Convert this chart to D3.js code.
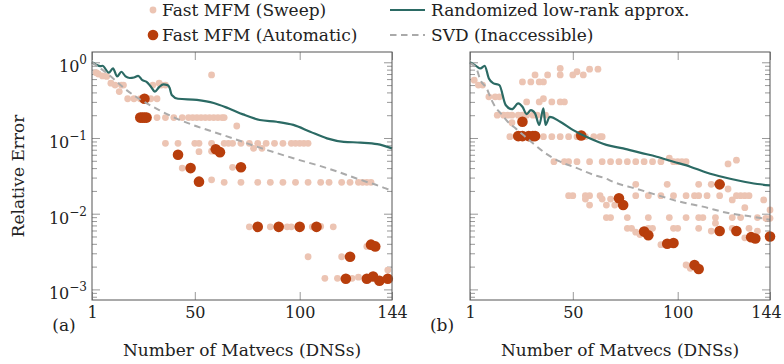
<!DOCTYPE html>
<html>
<head>
<meta charset="utf-8">
<script src="https://cdn.jsdelivr.net/npm/d3@7"></script>
<style>
  body { margin: 0; background: #fff; }
  text { font-family: "DejaVu Serif", serif; fill: #222; }
</style>
</head>
<body>
<div id="chart"></div>
<script>
// data: [matvecs, relative error]
var xTicks = [1, 50, 100, 144];
var yTickExps = [0, -1, -2, -3];

var sweepA = [[3,0.73],[4,0.70],[6,0.66],[8,0.65],[10,0.53],[12,0.50],[14,0.41],[15,0.50],[16,0.50],
  [18,0.33],[21,0.33],[24,0.33],[29,0.33],[32,0.33],[30,0.50],[33,0.53],[34,0.50],[36,0.50],[58,0.68],
  [32,0.186],[36,0.186],[40,0.186],[44,0.186],[47,0.186],[49,0.186],[51,0.186],[53,0.186],[55,0.186],
  [57,0.186],[59,0.186],[61,0.186],[63,0.186],[64,0.186],[70,0.144],
  [36,0.085],[42,0.085],[50,0.085],[52,0.085],[58,0.085],[64,0.085],[66,0.085],[68,0.085],[72,0.085],
  [76,0.085],[80,0.085],[84,0.085],[88,0.085],[92,0.085],[96,0.085],[98,0.085],[100,0.085],[102,0.085],[104,0.085],
  [52,0.066],[58,0.067],[78,0.073],[82,0.073],[44,0.040],[68,0.041],
  [58,0.028],[64,0.026],[72,0.026],[80,0.026],[86,0.026],[92,0.026],[98,0.026],[104,0.026],[110,0.026],
  [114,0.026],[120,0.026],[124,0.026],[128,0.026],[130,0.026],[132,0.026],[134,0.026],
  [76,0.0067],[86,0.0067],[94,0.0067],[96,0.0067],[106,0.0067],[110,0.0068],[116,0.0067],
  [104,0.0027],[120,0.0027],[132,0.0037],
  [112,0.0014],[118,0.0014],[125,0.0014],[128,0.00145],[142,0.0018]];

var autoA = [[26,0.33],[24,0.186],[25,0.186],[26,0.186],[27,0.186],[42,0.060],[48,0.040],[52,0.0265],
  [60,0.071],[62,0.065],[72,0.041],[80,0.0067],[90,0.0067],[100,0.0067],[108,0.0067],[124,0.0027],
  [134,0.0039],[136,0.0037],[122,0.00138],[132,0.00138],[135,0.00148],[138,0.0013],[142,0.00138]];

var randA = [[1,1.0],[3,0.93],[5,0.89],[6,0.90],[9,0.73],[11,0.83],[13,0.65],[15,0.75],[17,0.65],[19,0.62],
  [21,0.63],[23,0.66],[25,0.58],[27,0.55],[29,0.48],[31,0.41],[33,0.47],[35,0.51],[37,0.50],[38,0.46],
  [39,0.37],[42,0.33],[51,0.318],[59,0.29],[66,0.247],[73,0.205],[81,0.173],[89,0.164],[97,0.149],
  [105,0.121],[113,0.099],[121,0.089],[129,0.087],[137,0.083],[144,0.073]];

var svdA = [[1,1.0],[10,0.65],[17,0.44],[25,0.31],[33,0.234],[41,0.182],[49,0.149],[65,0.106],[81,0.0745],
  [97,0.054],[113,0.040],[129,0.028],[141,0.0216],[144,0.020]];

var sweepB = [[3,0.58],[5,0.50],[7,0.50],[10,0.35],[13,0.35],[15,0.35],
  [14,0.20],[17,0.20],[19,0.20],[21,0.20],[24,0.20],[26,0.20],[28,0.20],[31,0.20],[33,0.20],[37,0.20],[21,0.159],
  [20,0.104],[23,0.104],[27,0.104],[33,0.104],[36,0.104],[40,0.104],[44,0.104],[48,0.104],[52,0.104],
  [56,0.104],[60,0.104],[63,0.104],[64,0.104],
  [26,0.55],[30,0.55],[32,0.68],[34,0.55],[36,0.55],[38,0.68],[44,0.83],[44,0.68],[50,0.68],[52,0.75],
  [55,0.68],[58,0.81],[62,0.81],
  [28,0.30],[34,0.30],[36,0.33],[40,0.30],[44,0.30],[46,0.30],
  [41,0.0486],[46,0.0486],[48,0.0486],[52,0.0486],[58,0.0486],[64,0.0486],[68,0.0486],[72,0.0486],
  [76,0.0486],[80,0.0486],[84,0.0486],[88,0.0486],[92,0.0486],[96,0.054],[98,0.0486],[100,0.0486],
  [102,0.0486],[104,0.0486],[124,0.0454],[128,0.051],
  [48,0.0173],[50,0.0173],[56,0.0173],[58,0.0173],[56,0.0156],[58,0.013],[63,0.0173],[64,0.0156],
  [66,0.013],[68,0.0156],[70,0.013],[66,0.0089],[68,0.0089],
  [80,0.0244],[95,0.0244],[110,0.0244],[116,0.0244],[124,0.0212],
  [80,0.0173],[86,0.0173],[92,0.0173],[98,0.0173],[104,0.0173],[108,0.0173],[110,0.0173],[114,0.0173],
  [120,0.0173],[126,0.0152],[128,0.0173],[130,0.0173],[132,0.0173],[134,0.0173],[132,0.012],
  [141,0.0152],[144,0.0112],[142,0.0087],[144,0.0087],
  [76,0.0089],[86,0.0089],[96,0.0089],[104,0.0089],[110,0.0089],[112,0.0089],[118,0.0089],[126,0.0089],
  [130,0.0089],[138,0.0089],[118,0.0075],
  [76,0.0064],[78,0.0064],[80,0.0057],[86,0.0064],[88,0.0064],[98,0.0064],[100,0.0064],[110,0.0064],
  [116,0.0059],[126,0.0064],[134,0.0064],[138,0.0059],
  [82,0.0053],[132,0.0048],[92,0.0039],[104,0.0021],[106,0.0019]];

var autoB = [[26,0.164],[24,0.106],[26,0.106],[29,0.106],[31,0.106],[32,0.106],[54,0.108],[72,0.016],
  [74,0.013],[84,0.0058],[86,0.0052],[95,0.0040],[98,0.0041],[108,0.0021],[110,0.00186],[120,0.0244],
  [120,0.0059],[128,0.0059],[135,0.0049],[137,0.0047],[144,0.005]];

var randB = [[1,1.0],[4,0.89],[6,0.83],[8,0.90],[10,0.61],[12,0.53],[15,0.50],[18,0.273],[21,0.24],
  [24,0.287],[26,0.259],[28,0.207],[30,0.234],[32,0.212],[34,0.149],[36,0.247],[37,0.149],[39,0.19],
  [44,0.164],[50,0.128],[58,0.099],[66,0.081],[74,0.073],[82,0.064],[90,0.0566],[98,0.0486],
  [106,0.0418],[114,0.0348],[122,0.0303],[130,0.027],[138,0.0247],[144,0.0237]];

var svdB = [[1,0.98],[4,0.83],[6,0.58],[9,0.45],[11,0.33],[13,0.259],[16,0.207],[19,0.164],[23,0.132],
  [27,0.106],[31,0.085],[37,0.0628],[44,0.0486],[52,0.040],[60,0.0325],[66,0.029],[69,0.0265],
  [80,0.0215],[90,0.0177],[101,0.0144],[112,0.0124],[124,0.0102],[136,0.0091],[144,0.0083]];

var panels = [
  {sweep: sweepA, auto: autoA, rand: randA, svd: svdA, left: 92, right: 392, tag: "(a)", yLabels: true},
  {sweep: sweepB, auto: autoB, rand: randB, svd: svdB, left: 470, right: 770, tag: "(b)", yLabels: false}
];

var svgWidth = 784, svgHeight = 364;
var plotTop = 52, plotBottom = 300;
var sweepColor = "#ecc4b3", autoColor = "#b83e0c", randColor = "#2b6a64", svdColor = "#aaaaaa";

var svg = d3.select("#chart").append("svg")
  .attr("width", svgWidth)
  .attr("height", svgHeight);

var yScale = d3.scaleLog()
  .domain([Math.pow(10, -3.14), Math.pow(10, 0.136)])
  .range([plotBottom, plotTop]);

var majors = yTickExps.map(e => Math.pow(10, e));
var minors = [];
for (var e = -4; e <= 0; e++) {
  for (var k = 2; k <= 9; k++) {
    var v = k * Math.pow(10, e);
    if (v >= yScale.domain()[0] && v <= yScale.domain()[1]) minors.push(v);
  }
}

panels.forEach(function(p) {
  var x = d3.scaleLinear().domain([1, 144]).range([p.left, p.right]);
  var g = svg.append("g");

  // ticks, all pointing inward
  function tickStyle(sel) {
    sel.select(".domain").remove();
    sel.selectAll(".tick line").attr("stroke", "#999");
  }
  g.append("g").attr("transform", `translate(0, ${plotBottom})`)
    .call(d3.axisBottom(x).tickValues(xTicks).tickSizeInner(-8).tickSizeOuter(0).tickPadding(7).tickFormat(d3.format("d")))
    .call(tickStyle)
    .selectAll("text").attr("font-size", 16).attr("font-family", "DejaVu Serif").attr("fill", "#222")
    // keep the last label inside the page
    .attr("dx", d => (x(d) + 16 > svgWidth - 1) ? (svgWidth - 2 - 16 - x(d)) : 0);
  g.append("g").attr("transform", `translate(0, ${plotTop})`)
    .call(d3.axisTop(x).tickValues(xTicks).tickSizeInner(-8).tickSizeOuter(0).tickFormat(""))
    .call(tickStyle);
  g.append("g").attr("transform", `translate(${p.left}, 0)`)
    .call(d3.axisLeft(yScale).tickValues(majors).tickSizeInner(-8).tickSizeOuter(0).tickFormat(""))
    .call(tickStyle);
  g.append("g").attr("transform", `translate(${p.left}, 0)`)
    .call(d3.axisLeft(yScale).tickValues(minors).tickSizeInner(-5).tickSizeOuter(0).tickFormat(""))
    .call(tickStyle);
  g.append("g").attr("transform", `translate(${p.right}, 0)`)
    .call(d3.axisRight(yScale).tickValues(majors).tickSizeInner(-8).tickSizeOuter(0).tickFormat(""))
    .call(tickStyle);
  g.append("g").attr("transform", `translate(${p.right}, 0)`)
    .call(d3.axisRight(yScale).tickValues(minors).tickSizeInner(-5).tickSizeOuter(0).tickFormat(""))
    .call(tickStyle);

  if (p.yLabels) {
    yTickExps.forEach(function(ex) {
      var t = g.append("text")
        .attr("x", p.left - 5)
        .attr("y", yScale(Math.pow(10, ex)) + 10)
        .attr("text-anchor", "end")
        .attr("font-size", 16);
      t.append("tspan").text("10");
      t.append("tspan").attr("font-size", 12).attr("dy", -8).text(ex === 0 ? "0" : "\u2212" + (-ex));
    });
  }

  // sweep points
  g.append("g").selectAll("circle")
    .data(p.sweep)
    .enter()
    .append("circle")
    .attr("cx", d => x(d[0]))
    .attr("cy", d => yScale(d[1]))
    .attr("r", 3.4)
    .attr("fill", sweepColor);

  // automatic points
  g.append("g").selectAll("circle")
    .data(p.auto)
    .enter()
    .append("circle")
    .attr("cx", d => x(d[0]))
    .attr("cy", d => yScale(d[1]))
    .attr("r", 5.3)
    .attr("fill", autoColor);

  var line = d3.line()
    .x(d => x(d[0]))
    .y(d => yScale(d[1]))
    .curve(d3.curveMonotoneX);

  g.append("path").datum(p.rand)
    .attr("d", line)
    .attr("fill", "none")
    .attr("stroke", randColor)
    .attr("stroke-width", 2.2);

  g.append("path").datum(p.svd)
    .attr("d", line)
    .attr("fill", "none")
    .attr("stroke", svdColor)
    .attr("stroke-width", 2)
    .attr("stroke-dasharray", "6.5,4.5");

  // frame
  g.append("rect")
    .attr("x", p.left).attr("y", plotTop)
    .attr("width", p.right - p.left).attr("height", plotBottom - plotTop)
    .attr("fill", "none").attr("stroke", "#555").attr("stroke-width", 1);

  g.append("text")
    .attr("x", p.left - 28).attr("y", 331)
    .attr("text-anchor", "middle").attr("font-size", 17)
    .text(p.tag);

  g.append("text")
    .attr("x", (p.left + p.right) / 2).attr("y", 356)
    .attr("text-anchor", "middle").attr("font-size", 17)
    .text("Number of Matvecs (DNSs)");
});

svg.append("text")
  .attr("transform", "translate(24, 176) rotate(-90)")
  .attr("text-anchor", "middle").attr("font-size", 17)
  .text("Relative Error");

// legend
var legend = svg.append("g");
legend.append("circle").attr("cx", 153).attr("cy", 10).attr("r", 3.4).attr("fill", sweepColor);
legend.append("text").attr("x", 162).attr("y", 16).attr("font-size", 17).text("Fast MFM (Sweep)");
legend.append("circle").attr("cx", 153).attr("cy", 35).attr("r", 5.3).attr("fill", autoColor);
legend.append("text").attr("x", 162).attr("y", 41).attr("font-size", 17).text("Fast MFM (Automatic)");
legend.append("line").attr("x1", 390).attr("x2", 425).attr("y1", 10).attr("y2", 10)
  .attr("stroke", randColor).attr("stroke-width", 2.2);
legend.append("text").attr("x", 431).attr("y", 16).attr("font-size", 17).text("Randomized low-rank approx.");
legend.append("line").attr("x1", 390).attr("x2", 425).attr("y1", 35).attr("y2", 35)
  .attr("stroke", svdColor).attr("stroke-width", 2).attr("stroke-dasharray", "6.5,4.5");
legend.append("text").attr("x", 431).attr("y", 41).attr("font-size", 17).text("SVD (Inaccessible)");
</script>
</body>
</html>
